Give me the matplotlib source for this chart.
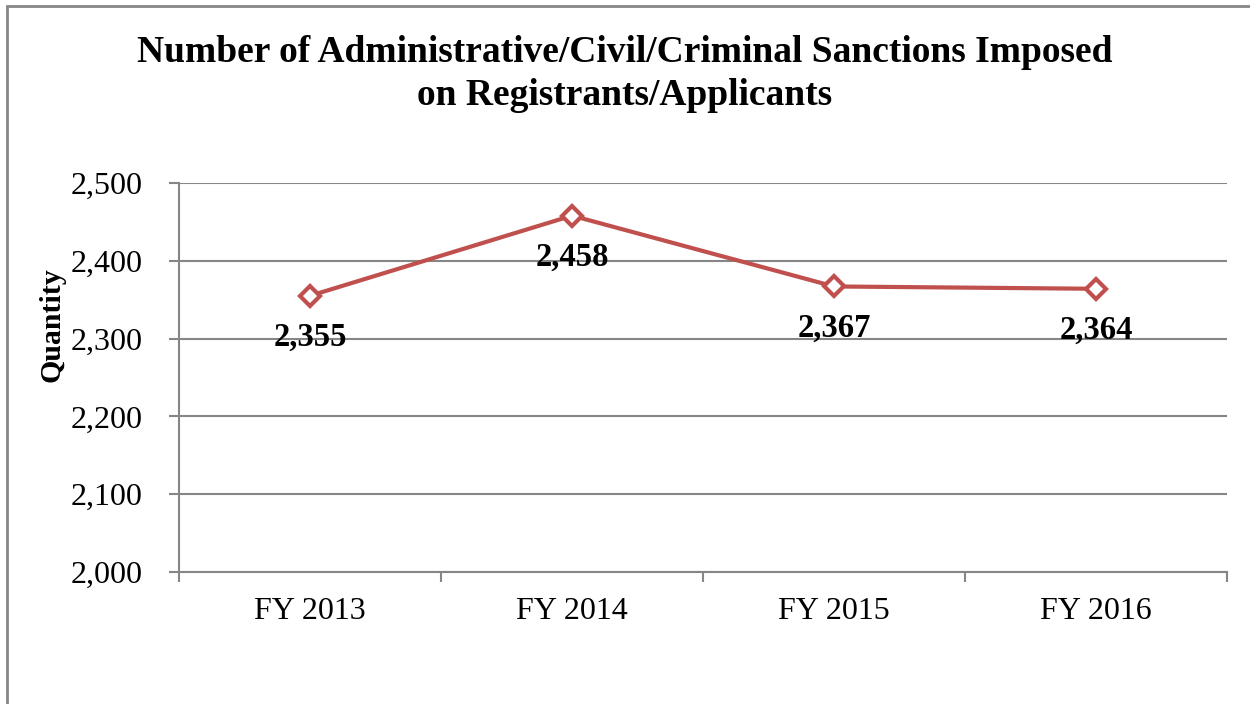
import matplotlib
matplotlib.use('Agg')
import matplotlib.pyplot as plt
from matplotlib.patches import Rectangle
from matplotlib.ticker import FuncFormatter

years = ['FY 2013', 'FY 2014', 'FY 2015', 'FY 2016']
sanctions = [2355, 2458, 2367, 2364]
yticks = [2000, 2100, 2200, 2300, 2400, 2500]

plt.rcParams['font.family'] = ['Liberation Serif', 'DejaVu Serif']

fig = plt.figure(figsize=(12.5, 7.04), dpi=100)
ax = fig.add_axes([0.1432, 0.1875, 0.8384, 0.5526])

grey = '#868686'
red = '#C0504D'

x = list(range(len(years)))
ax.plot(x, sanctions, color=red, lw=3, marker='D', ms=10.5,
        mfc='white', mec=red, mew=3, zorder=3, clip_on=False)

# value labels sit under each point
for xi, v in zip(x, sanctions):
    ax.annotate(f'{v:,}', (xi, v), xytext=(0, -30), textcoords='offset points',
                ha='center', va='center', fontsize=23.5, fontweight='bold')

ax.set_xlim(-0.5, len(years) - 0.5)
ax.set_ylim(2000, 2500)
ax.set_yticks(yticks)
ax.yaxis.set_major_formatter(FuncFormatter(lambda v, p: f'{int(v):,}'))
ax.set_xticks(x)
ax.set_xticklabels(years)
ax.set_xticks([i - 0.5 for i in range(len(years) + 1)], minor=True)

ax.grid(axis='y', color=grey, lw=1.5)
ax.set_axisbelow(True)
for s in ['top', 'right']:
    ax.spines[s].set_visible(False)
for s in ['left', 'bottom']:
    ax.spines[s].set_color(grey)
    ax.spines[s].set_linewidth(1.5)

ax.tick_params(axis='y', direction='out', length=7, width=1.5, color=grey,
               labelsize=23, pad=19)
ax.tick_params(axis='x', which='major', length=0, labelsize=23, pad=18)
ax.tick_params(axis='x', which='minor', direction='out', length=7, width=1.5, color=grey)

fig.text(52 / 1250, 1 - 325 / 704, 'Quantity', rotation=90, ha='center', va='center',
         fontsize=21.5, fontweight='bold')

fig.text(0.5, 1 - 74 / 704, 'Number of Administrative/Civil/Criminal Sanctions Imposed\non Registrants/Applicants',
         ha='center', va='center', fontsize=27, fontweight='bold', linespacing=1.3)

# chart border, only the top and left edges fall inside the image
fig.patches.append(Rectangle((7, -20), 1300, 718, transform=None,
                             fill=False, edgecolor=grey, lw=2))

fig.savefig('out.png', dpi=100)
